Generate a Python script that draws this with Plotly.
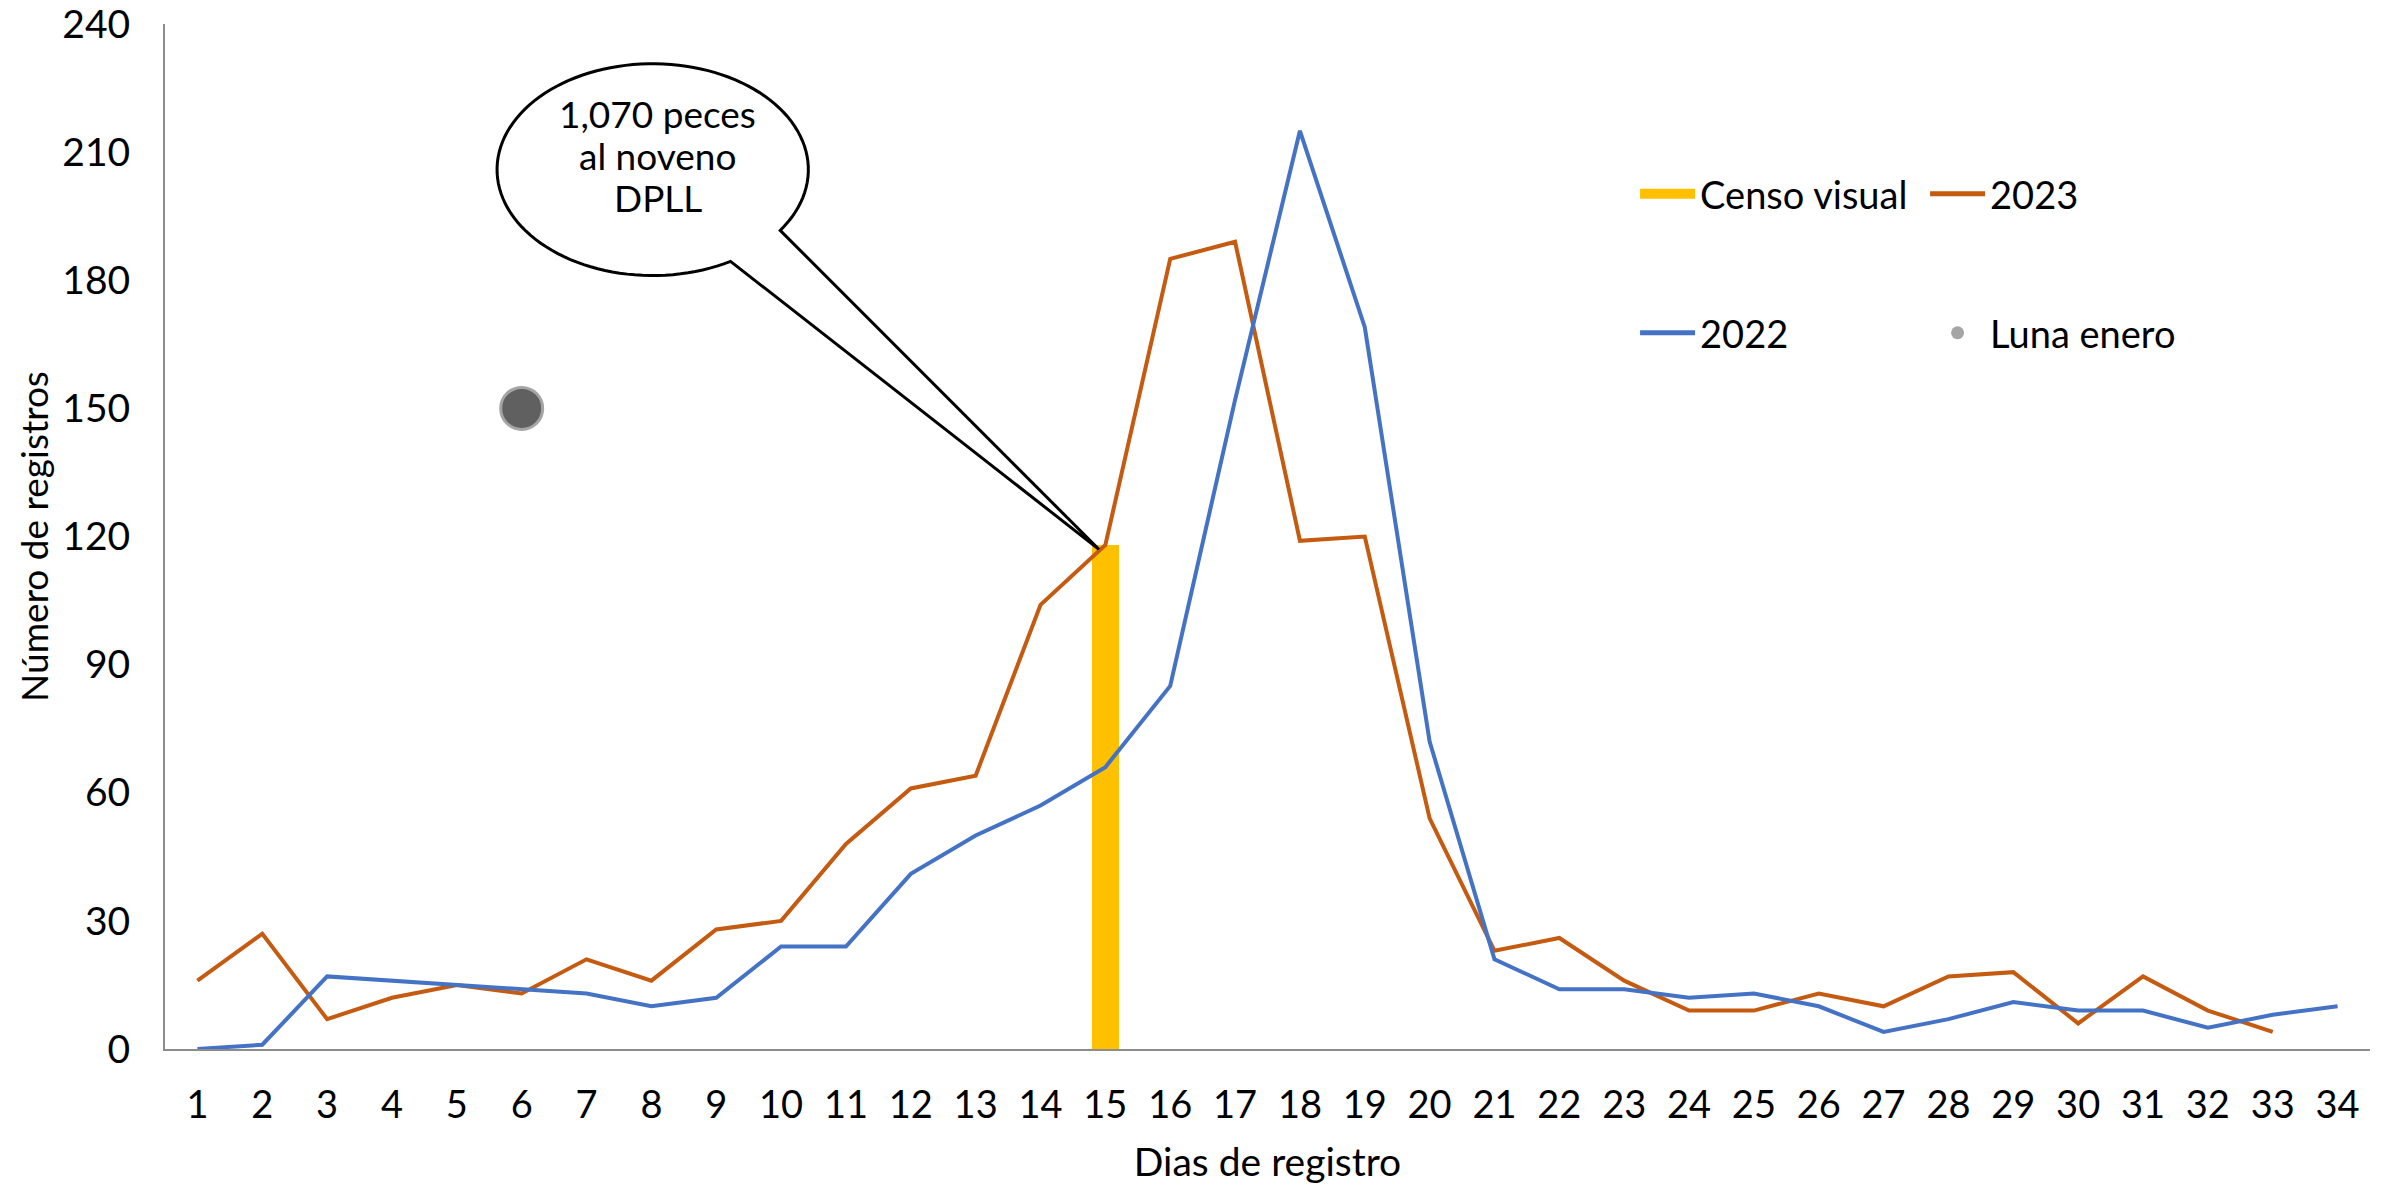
import numpy as np
import plotly.graph_objects as go

# ---------------- data ----------------
days = list(range(1, 35))
tick_days = list(range(1, 35))
y2023 = [16, 27, 7, 12, 15, 13, 21, 16, 28, 30, 48, 61, 64, 104, 118, 185, 189, 119, 120, 54,
         23, 26, 16, 9, 9, 13, 10, 17, 18, 6, 17, 9, 4]
y2022 = [0, 1, 17, 16, 15, 14, 13, 10, 12, 24, 24, 41, 50, 57, 66, 85, 152, 215, 169, 72,
         21, 14, 14, 12, 13, 10, 4, 7, 11, 9, 9, 5, 8, 10]
censo_day = [15]
censo_val = [118]
luna_day = [6]
luna_val = [150]
y_ticks = list(range(0, 241, 30))
callout_lines = ["1,070 peces", "al noveno", "DPLL"]

# ---------------- style ----------------
FONT = "Lato, 'Open Sans', sans-serif"
C_2023 = "#C55A11"
C_2022 = "#4472C4"
C_CENSO = "#FFC000"
AXIS_C = "#8C8C8C"

fig = go.Figure()

fig.add_trace(go.Bar(x=censo_day, y=censo_val, width=0.42, marker=dict(color=C_CENSO, line=dict(width=0)),
                     name="Censo visual", showlegend=False))
fig.add_trace(go.Scatter(x=days[:len(y2023)], y=y2023, mode="lines", line=dict(color=C_2023, width=4),
                         name="2023", showlegend=False))
fig.add_trace(go.Scatter(x=days[:len(y2022)], y=y2022, mode="lines", line=dict(color=C_2022, width=4),
                         name="2022", showlegend=False))
fig.add_trace(go.Scatter(x=luna_day, y=luna_val, mode="markers",
                         marker=dict(color="#606060", size=42, line=dict(color="#A5A5A5", width=3)),
                         name="Luna enero", showlegend=False))

# legend proxies
fig.add_trace(go.Scatter(x=[None], y=[None], mode="lines", line=dict(color=C_CENSO, width=26),
                         name="Censo visual", legend="legend"))
fig.add_trace(go.Scatter(x=[None], y=[None], mode="lines", line=dict(color=C_2023, width=5),
                         name="2023", legend="legend"))
fig.add_trace(go.Scatter(x=[None], y=[None], mode="lines", line=dict(color=C_2022, width=5),
                         name="2022", legend="legend2"))
fig.add_trace(go.Scatter(x=[None], y=[None], mode="markers", marker=dict(color="#A5A5A5", size=13),
                         name="Luna enero", legend="legend2"))

# ---------------- callout bubble ----------------
cx, cy, rx, ry = 8.02, 205.9, 2.40, 24.8
tip_x, tip_y = 14.9, 117.0
a0, a1 = -35.0, 300.0
angs = np.radians(np.linspace(a0, a1, 120))
pts = [(cx + rx * np.cos(a), cy + ry * np.sin(a)) for a in angs]
path = f"M{tip_x},{tip_y} " + " ".join(f"L{px:.4f},{py:.3f}" for px, py in pts) + f" L{tip_x},{tip_y} Z"
fig.add_shape(type="path", path=path, xref="x", yref="y", line=dict(color="black", width=3),
              fillcolor="white", layer="above")
LINE_GAP = 42
for i, txt in enumerate(callout_lines):
    fig.add_annotation(x=cx + 0.08, y=cy, xref="x", yref="y", text=txt, showarrow=False,
                       yshift=14 + LINE_GAP * (1 - i),
                       font=dict(family=FONT, size=37, color="black"), align="center")

# ---------------- layout ----------------
W, H = 2397, 1188
ML, MR, MT, MB = 165, 27, 24, 139
leg_common = dict(orientation="h", xanchor="left", yanchor="middle", itemwidth=55,
                  entrywidth=220, entrywidthmode="pixels", bgcolor="rgba(0,0,0,0)",
                  font=dict(family=FONT, size=38, color="black"), traceorder="normal")
fig.update_layout(
    width=W, height=H,
    margin=dict(l=ML, r=MR, t=MT, b=MB, pad=0),
    paper_bgcolor="white", plot_bgcolor="white",
    font=dict(family=FONT, size=38, color="black"),
    bargap=0,
    legend=dict(x=0.6667, y=0.834, **leg_common),
    legend2=dict(x=0.6667, y=0.6985, **leg_common),
    xaxis=dict(range=[0.5, 34.5], tickmode="array", tickvals=tick_days,
               ticktext=[str(d) for d in tick_days], showgrid=False, zeroline=False,
               showline=True, linecolor=AXIS_C, linewidth=2, ticks="",
               ticklabelstandoff=21, ticklabeloverflow="allow",
               tickfont=dict(family=FONT, size=38, color="black"),
               title=dict(text="Dias de registro", font=dict(family=FONT, size=39, color="black"), standoff=24),
               automargin=False),
    yaxis=dict(range=[0, 240], tickmode="array", tickvals=y_ticks, ticktext=[str(v) for v in y_ticks],
               showgrid=False, zeroline=False, showline=True, linecolor=AXIS_C, linewidth=2, ticks="",
               ticklabelstandoff=25, ticklabeloverflow="allow",
               tickfont=dict(family=FONT, size=39, color="black"),
               title=dict(text="Número de registros", font=dict(family=FONT, size=37, color="black"), standoff=2),
               automargin=False),
)

fig.write_html("out.html", config={"displayModeBar": False},
               post_script="document.body.style.margin='0px';")
